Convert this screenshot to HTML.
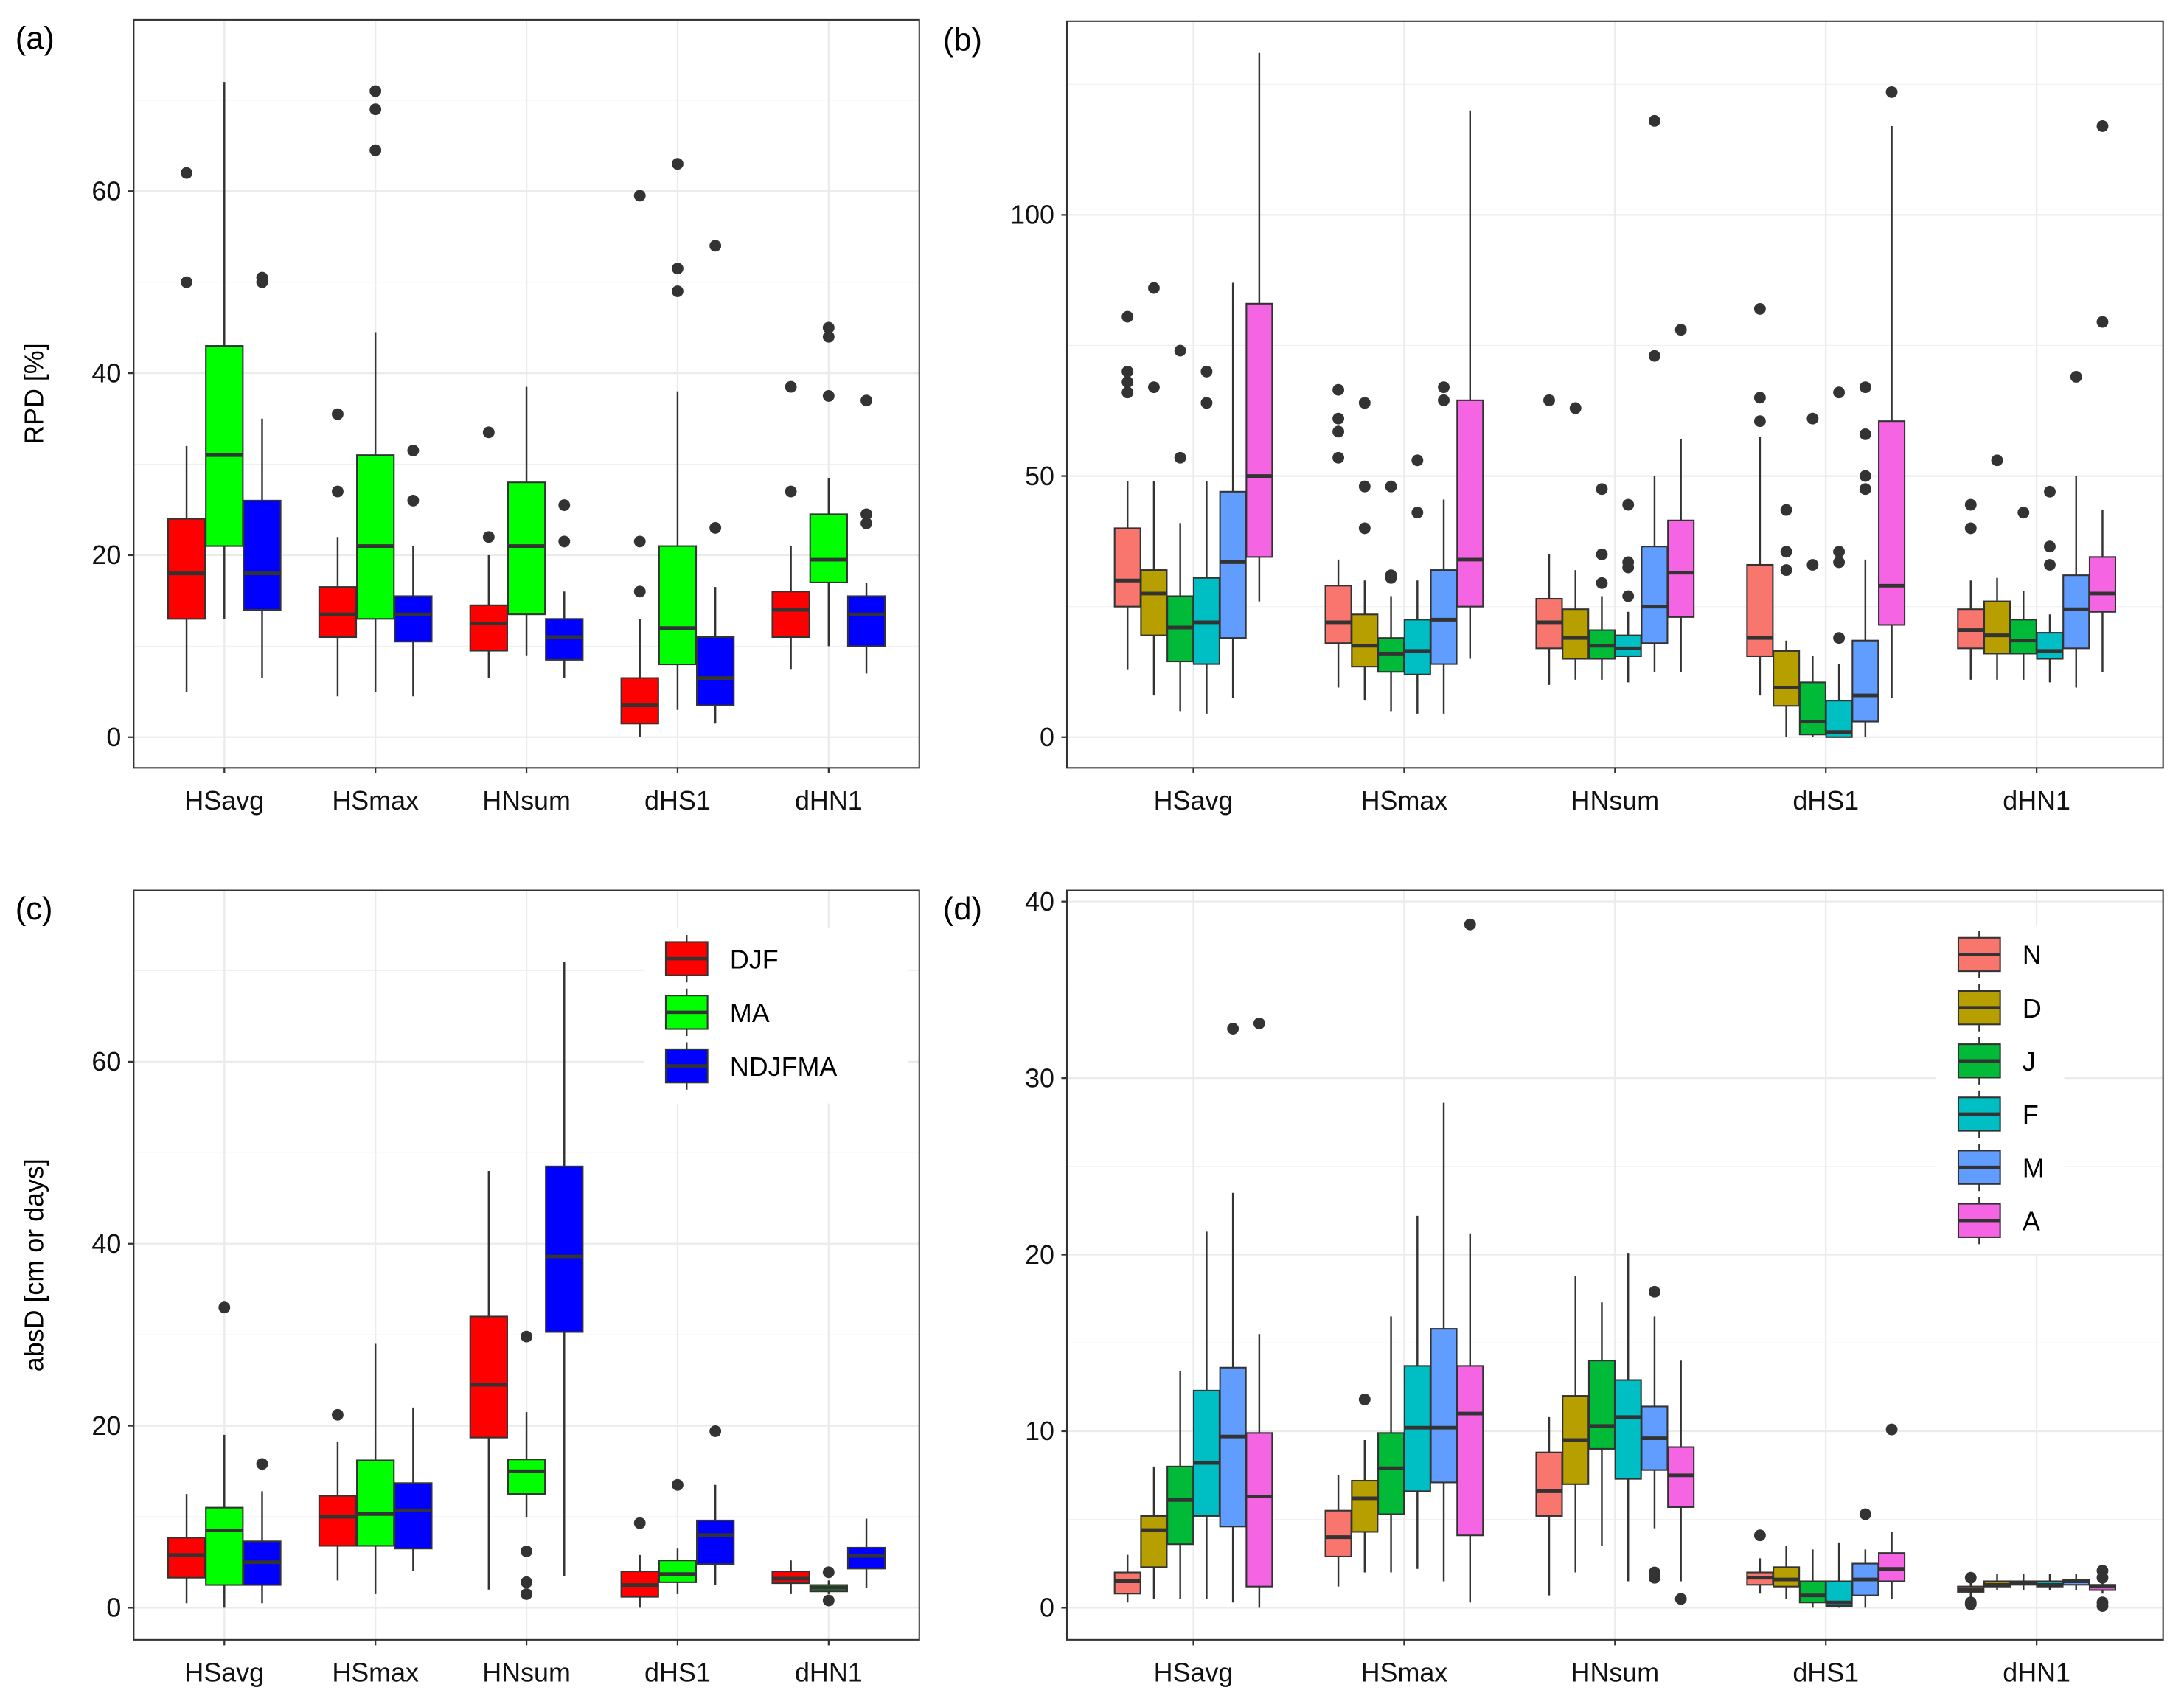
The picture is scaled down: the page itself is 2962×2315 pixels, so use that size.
<!DOCTYPE html>
<html><head><meta charset="utf-8"><style>
html,body{margin:0;padding:0;background:#fff;}
svg{display:block;font-family:"Liberation Sans",Arial,sans-serif;}
</style></head><body>
<svg id="root" width="2962" height="2315" viewBox="0 0 1568 1225" xmlns="http://www.w3.org/2000/svg"></svg>
<script>
// ---- data ----
const categories = ["HSavg","HSmax","HNsum","dHS1","dHN1"];
const seasonGroups = ["DJF","MA","NDJFMA"];
const monthGroups = ["N","D","J","F","M","A"];
// each box: [lowWhisker, q1, median, q3, highWhisker, [outliers]]
const rpdSeason = [
 [[5,13,18,24,32,[50,62]],[13,21,31,43,72,[]],[6.5,14,18,26,35,[50,50.5]]],
 [[4.5,11,13.5,16.5,22,[27,35.5]],[5,13,21,31,44.5,[64.5,69,71]],[4.5,10.5,13.5,15.5,21,[26,31.5]]],
 [[6.5,9.5,12.5,14.5,20,[22,33.5]],[9,13.5,21,28,38.5,[]],[6.5,8.5,11,13,16,[21.5,25.5]]],
 [[0,1.5,3.5,6.5,13,[16,21.5,59.5]],[3,8,12,21,38,[49,51.5,63]],[1.5,3.5,6.5,11,16.5,[23,54]]],
 [[7.5,11,14,16,21,[27,38.5]],[10,17,19.5,24.5,28.5,[37.5,44,45]],[7,10,13.5,15.5,17,[23.5,24.5,37]]]
];
const rpdMonth = [
 [[13,25,30,40,49,[66,68,70,80.5]],[8,19.5,27.5,32,49,[67,86]],[5,14.5,21,27,41,[53.5,74]],[4.5,14,22,30.5,49,[64,70]],[7.5,19,33.5,47,87,[]],[26,34.5,50,83,131,[]]],
 [[9.5,18,22,29,34,[53.5,58.5,61,66.5]],[7,13.5,17.5,23.5,30,[40,48,64]],[5,12.5,16,19,27,[30.5,31,48]],[4.5,12,16.5,22.5,30,[43,53]],[4.5,14,22.5,32,45.5,[64.5,67]],[15,25,34,64.5,120,[]]],
 [[10,17,22,26.5,35,[64.5]],[11,15,19,24.5,32,[63]],[11,15,17.5,20.5,27,[29.5,35,47.5]],[10.5,15.5,17,19.5,24,[27,32.5,33.5,44.5]],[12.5,18,25,36.5,50,[73,118]],[12.5,23,31.5,41.5,57,[78]]],
 [[8,15.5,19,33,57.5,[60.5,65,82]],[0,6,9.5,16.5,18.5,[32,35.5,43.5]],[0,0.5,3,10.5,15.5,[33,61]],[0,0,1,7,14,[19,33.5,35.5,66]],[0,3,8,18.5,34,[47.5,50,58,67]],[7.5,21.5,29,60.5,117,[123.5]]],
 [[11,17,20.5,24.5,30,[40,44.5]],[11,16,19.5,26,30.5,[53]],[11,16,18.5,22.5,28,[43]],[10.5,15,16.5,20,23.5,[33,36.5,47]],[9.5,17,24.5,31,50,[69]],[12.5,24,27.5,34.5,43.5,[79.5,117]]]
];
const absSeason = [
 [[0.5,3.3,5.8,7.7,12.5,[]],[0,2.5,8.5,11,19,[33]],[0.5,2.5,5,7.3,12.8,[15.8]]],
 [[3,6.8,10,12.3,18.2,[21.2]],[1.5,6.8,10.3,16.2,29,[]],[4,6.5,10.7,13.7,22,[]]],
 [[2,18.7,24.5,32,48,[]],[10,12.5,15,16.3,21.5,[1.5,2.8,6.2,29.8]],[3.5,30.3,38.6,48.5,71,[]]],
 [[0,1.2,2.5,4,5.8,[9.3]],[1.5,2.8,3.7,5.2,6.5,[13.5]],[2.5,4.8,8,9.6,13.5,[19.4]]],
 [[1.5,2.7,3.2,4,5.2,[]],[1.5,1.8,2.2,2.5,3,[0.8,3.9]],[2.2,4.3,5.7,6.6,9.8,[]]]
];
const absMonth = [
 [[0.3,0.8,1.5,2,3,[]],[0.5,2.3,4.4,5.2,8,[]],[0.5,3.6,6.1,8,13.4,[]],[0.5,5.2,8.2,12.3,21.3,[]],[0.3,4.6,9.7,13.6,23.5,[32.8]],[0,1.2,6.3,9.9,15.5,[33.1]]],
 [[1.2,2.9,4,5.5,7.5,[]],[2,4.3,6.2,7.2,9.5,[11.8]],[2,5.3,7.9,9.9,16.5,[]],[2.2,6.6,10.2,13.7,22.2,[]],[1.5,7.1,10.2,15.8,28.6,[]],[0.3,4.1,11,13.7,21.2,[38.7]]],
 [[0.7,5.2,6.6,8.8,10.8,[]],[2,7,9.5,12,18.8,[]],[3.5,9,10.3,14,17.3,[]],[1.5,7.3,10.8,12.9,20.1,[]],[4.5,7.8,9.6,11.4,16.5,[1.7,2,17.9]],[1.5,5.7,7.5,9.1,14,[0.5]]],
 [[0.8,1.3,1.7,2,2.8,[4.1]],[0.5,1.2,1.6,2.3,3.5,[]],[0,0.3,0.7,1.5,3.3,[]],[0,0.1,0.3,1.5,3.7,[]],[0,0.7,1.6,2.5,3.3,[5.3]],[0.5,1.5,2.2,3.1,4.3,[10.1]]],
 [[0.5,0.9,1,1.2,1.5,[0.2,0.3,1.7]],[1,1.2,1.3,1.5,1.9,[]],[1,1.3,1.4,1.5,1.9,[]],[1,1.2,1.3,1.5,1.9,[]],[1,1.3,1.5,1.6,1.9,[]],[0.8,1,1.2,1.3,1.8,[0.1,0.3,1.7,2.1]]]
];
const ticksA = [0,20,40,60];
const ticksB = [0,50,100];
const ticksC = [0,20,40,60];
const ticksD = [0,10,20,30,40];
const seasonColors = ["#FF0000","#00FF00","#0000FF"];
const monthColors = ["#F8766D","#B79F00","#00BA38","#00BFC4","#619CFF","#F564E3"];

const NS="http://www.w3.org/2000/svg";
const root=document.getElementById('root');
function mk(tag,attrs,parent){const e=document.createElementNS(NS,tag);for(const k in attrs)e.setAttribute(k,attrs[k]);(parent||root).appendChild(e);return e;}

function panel(cfg){
  const g=mk('g',{});
  
  
  const {x0,x1,y0,y1,v0,p0,v1,p1}=cfg;
  const yS=v=>p0+(v-v0)*(p1-p0)/(v1-v0);
  const n=categories.length;
  const cw=(x1-x0)/(n+0.2);
  const xS=i=>x0+cw*(0.6+i);
  const t=cfg.ticks;const step=t[1]-t[0];
  for(let v=t[0]-step/2;v<=t[t.length-1]+step;v+=step){const y=yS(v);if(y>y0&&y<y1)mk('line',{x1:x0,x2:x1,y1:y,y2:y,stroke:'#f0f0f0','stroke-width':0.6},g);}
  t.forEach(v=>{const y=yS(v);mk('line',{x1:x0,x2:x1,y1:y,y2:y,stroke:'#ebebeb','stroke-width':1.2},g);
    const tl=mk('text',{x:x0-9,y:y+6.5,'text-anchor':'end','font-size':19,fill:'#111'},g);tl.textContent=v;
    
    
    mk('line',{x1:x0-4,x2:x0,y1:y,y2:y,stroke:'#333','stroke-width':1.2},g);});
  categories.forEach((c,i)=>{const x=xS(i);mk('line',{x1:x,x2:x,y1:y0,y2:y1,stroke:'#ebebeb','stroke-width':1.2},g);
    mk('line',{x1:x,x2:x,y1:y1,y2:y1+4,stroke:'#333','stroke-width':1.2},g);
    const tl=mk('text',{x:x,y:y1+30,'text-anchor':'middle','font-size':19,fill:'#111'},g);tl.textContent=c;
    
    });
  const data=cfg.data,cols=cfg.colors;
  const m=cols.length,gw=cw*0.75,bw=gw/m;
  data.forEach((grp,i)=>{grp.forEach((b,j)=>{
    const cx=xS(i)-gw/2+bw*(j+0.5);const w=bw*0.98;
    const bg=mk('g',{},g);
    
    
    mk('line',{x1:cx,x2:cx,y1:yS(b[0]),y2:yS(b[4]),stroke:'#333','stroke-width':1.3},bg);
    mk('rect',{x:cx-w/2,y:yS(b[3]),width:w,height:Math.max(0.5,yS(b[1])-yS(b[3])),fill:cols[j],stroke:'#333','stroke-width':1.1},bg);
    mk('line',{x1:cx-w/2,x2:cx+w/2,y1:yS(b[2]),y2:yS(b[2]),stroke:'#333','stroke-width':2.6},bg);
    b[5].forEach(o=>mk('circle',{cx:cx,cy:yS(o),r:4.2,fill:'#333'},bg));
  });});
  mk('rect',{x:x0,y:y0,width:x1-x0,height:y1-y0,fill:'none',stroke:'#333','stroke-width':1.1},g);
  const tag=mk('text',{x:cfg.tagX,y:y0+21,'font-size':23,fill:'#000'},g);tag.textContent=cfg.tag;
  
  
  if(cfg.ytitle){const yt=mk('text',{x:0,y:0,'font-size':19,fill:'#000','text-anchor':'middle',transform:`translate(${cfg.ytx},${(y0+y1)/2}) rotate(-90)`},g);yt.textContent=cfg.ytitle;
    
    }
  if(cfg.legend){const L=cfg.legend;
    const lg=mk('g',{},g);
    
    
    mk('rect',{x:L.x,y:L.y,width:L.w,height:L.h,fill:'#fff'},lg);
    cfg.groups.forEach((nm,k)=>{const yy=L.y0+k*L.dy;
      const le=mk('g',{},lg);
      
      
      mk('line',{x1:L.kx+15,x2:L.kx+15,y1:yy-17,y2:yy+17,stroke:'#333','stroke-width':1.2},le);
      mk('rect',{x:L.kx,y:yy-12,width:30,height:24,fill:cols[k],stroke:'#333','stroke-width':1.1},le);
      mk('line',{x1:L.kx,x2:L.kx+30,y1:yy,y2:yy,stroke:'#333','stroke-width':2.4},le);
      const tx=mk('text',{x:L.kx+46,y:yy+7,'font-size':19,fill:'#000'},le);tx.textContent=nm;});}
}
panel({name:'panel-a',tag:'(a)',tagX:11,x0:96,x1:660,y0:14,y1:551,v0:0,p0:529,v1:60,p1:137,ticks:ticksA,data:rpdSeason,colors:seasonColors,groups:seasonGroups,ytitle:'RPD [%]',ytx:31});
panel({name:'panel-b',tag:'(b)',tagX:677,x0:766,x1:1553,y0:15,y1:551,v0:0,p0:529,v1:100,p1:154,ticks:ticksB,data:rpdMonth,colors:monthColors,groups:monthGroups});
panel({name:'panel-c',tag:'(c)',tagX:11,x0:96,x1:660,y0:639,y1:1177,v0:0,p0:1154,v1:60,p1:762,ticks:ticksC,data:absSeason,colors:seasonColors,groups:seasonGroups,ytitle:'absD [cm or days]',ytx:31,
  legend:{x:462,y:666,w:190,h:126,kx:478,y0:688,dy:38.5}});
panel({name:'panel-d',tag:'(d)',tagX:677,x0:766,x1:1553,y0:639,y1:1177,v0:0,p0:1154,v1:40,p1:647,ticks:ticksD,data:absMonth,colors:monthColors,groups:monthGroups,
  legend:{x:1390,y:664,w:92,h:236,kx:1406,y0:685,dy:38.2}});
</script>
</body></html>
